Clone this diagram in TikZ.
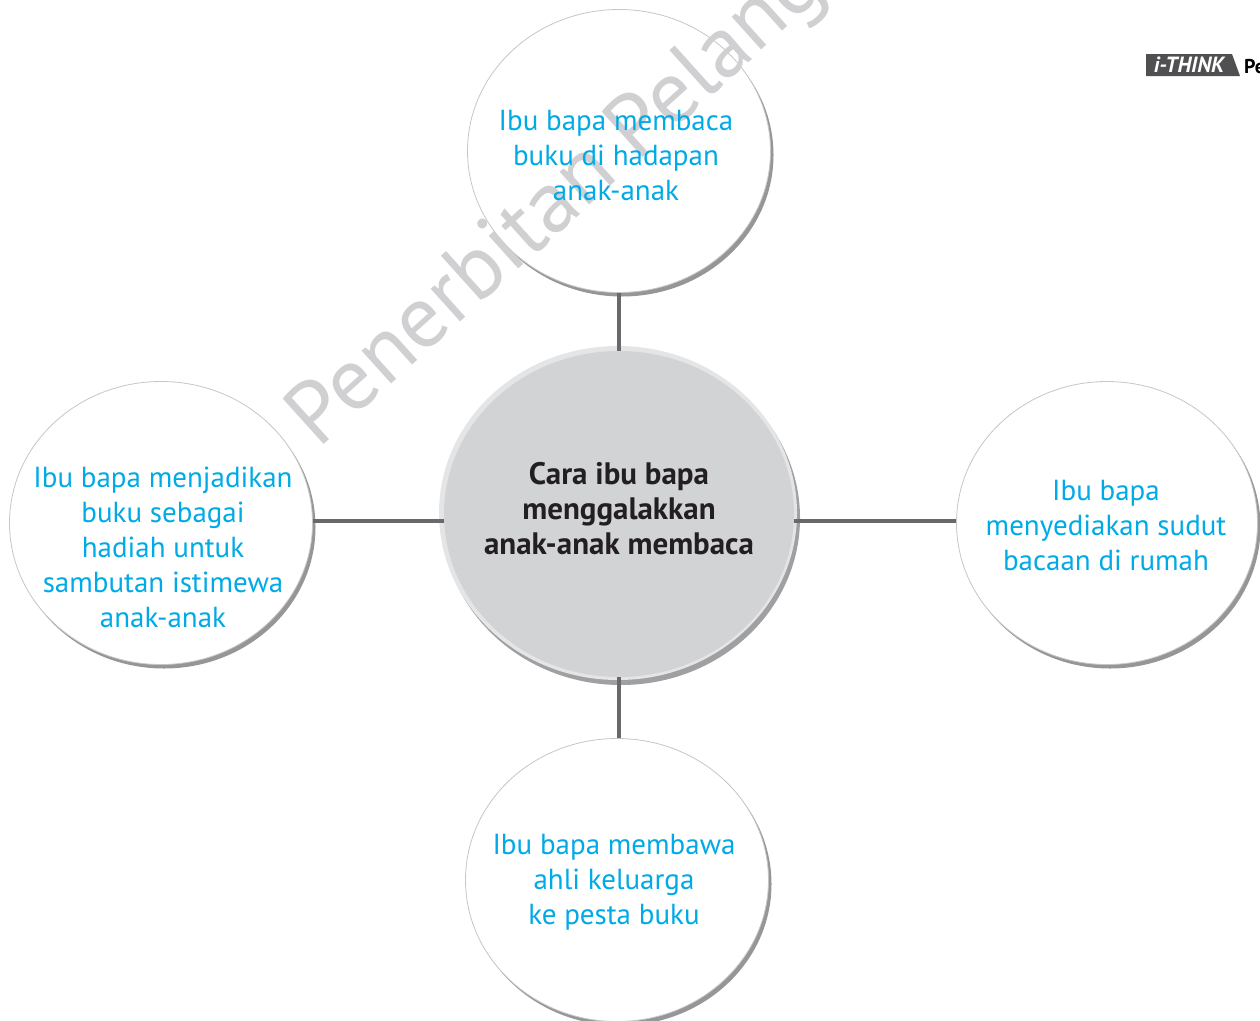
\documentclass[tikz,border=0pt]{standalone}
\usepackage{fontspec}
\setmainfont{PT Sans}
\usetikzlibrary{shapes.geometric}
\definecolor{tcyan}{RGB}{0,170,230}
\definecolor{cfill}{RGB}{210,211,213}
\definecolor{crim}{RGB}{228,229,230}
\definecolor{cshadow}{RGB}{160,160,162}
\definecolor{oshadow}{RGB}{150,150,152}
\definecolor{linec}{RGB}{105,105,107}
\definecolor{ctext}{RGB}{35,31,32}
\definecolor{wmark}{RGB}{208,208,210}
\definecolor{thinkbg}{RGB}{80,80,82}
\tikzset{
  outer/.style={ellipse, draw=gray!45, line width=0.8pt, fill=white, inner sep=0pt},
  oshad/.style={ellipse, fill=oshadow, inner sep=0pt},
  centr/.style={ellipse, fill=cfill, inner sep=0pt},
  conn/.style={draw=linec, line width=4pt},
  otext/.style={text=tcyan, align=center, font=\fontsize{29}{35}\selectfont},
  ctextst/.style={text=ctext, align=center, font=\fontsize{31}{35}\selectfont\bfseries},
}
\begin{document}
\begin{tikzpicture}[x=1pt,y=-1pt]
\useasboundingbox (0,0) rectangle (1260,1020);
\begin{scope}
\clip (0,0) rectangle (1260,1020);
% shadows
\node[oshad, minimum width=303pt, minimum height=283pt] (tsh) at (622,155) {};
\node[oshad, minimum width=303pt, minimum height=283pt] (lsh) at (164,527) {};
\node[oshad, minimum width=301pt, minimum height=283pt] (rsh) at (1110,527) {};
\node[oshad, minimum width=303pt, minimum height=283pt] (bsh) at (620,884) {};
\node[ellipse, fill=cshadow, inner sep=0pt, minimum width=358pt, minimum height=334pt] (csh) at (621,518) {};
% circles
\node[outer, minimum width=303pt, minimum height=283pt] (top) at (619,151) {};
\node[outer, minimum width=303pt, minimum height=283pt] (left) at (161,523) {};
\node[outer, minimum width=301pt, minimum height=283pt] (right) at (1107,523) {};
\node[outer, minimum width=303pt, minimum height=283pt] (bottom) at (617,880) {};
\node[ellipse, fill=crim, inner sep=0pt, minimum width=358pt, minimum height=334pt] (crimn) at (618,513) {};
\node[centr, minimum width=350pt, minimum height=326pt] (center) at (619,514) {};
% connectors
\draw[conn] (top.south) -- (center.north);
\draw[conn] (center.south) -- (center.south |- bottom.north);
\draw[conn] (left.east |- 0,521) -- (center.west |- 0,521);
\draw[conn] (center.east |- 0,521) -- (right.west |- 0,521);
% watermark
\node[text=wmark, rotate=42, anchor=base west, font=\fontsize{88}{88}\selectfont] (wm) at (316,452) {Penerbitan Pelangi};
% texts
\node[otext] (ttop) at (616,155) {Ibu bapa membaca\\buku di hadapan\\anak-anak};
\node[otext] (tleft) at (163,547) {Ibu bapa menjadikan\\buku sebagai\\hadiah untuk\\sambutan istimewa\\anak-anak};
\node[otext] (tright) at (1106,526) {Ibu bapa\\menyediakan sudut\\bacaan di rumah};
\node[otext] (tbottom) at (614,882) {Ibu bapa membawa\\ahli keluarga\\ke pesta buku};
\node[ctextst] (tcenter) at (619,509) {Cara ibu bapa\\menggalakkan\\anak-anak membaca};
% i-THINK label
\fill[thinkbg] (1146,54) -- (1232,54) -- (1240,76) -- (1146,76) -- cycle;
\node[text=white, font=\fontsize{22}{22}\selectfont\bfseries\itshape, anchor=center] (think) at (1189,65) {i-THINK};
\node[text=black, font=\fontsize{20}{20}\selectfont\bfseries, anchor=west, inner sep=0pt] (pe) at (1244,67) {Pe};
\end{scope}
\end{tikzpicture}
\end{document}
